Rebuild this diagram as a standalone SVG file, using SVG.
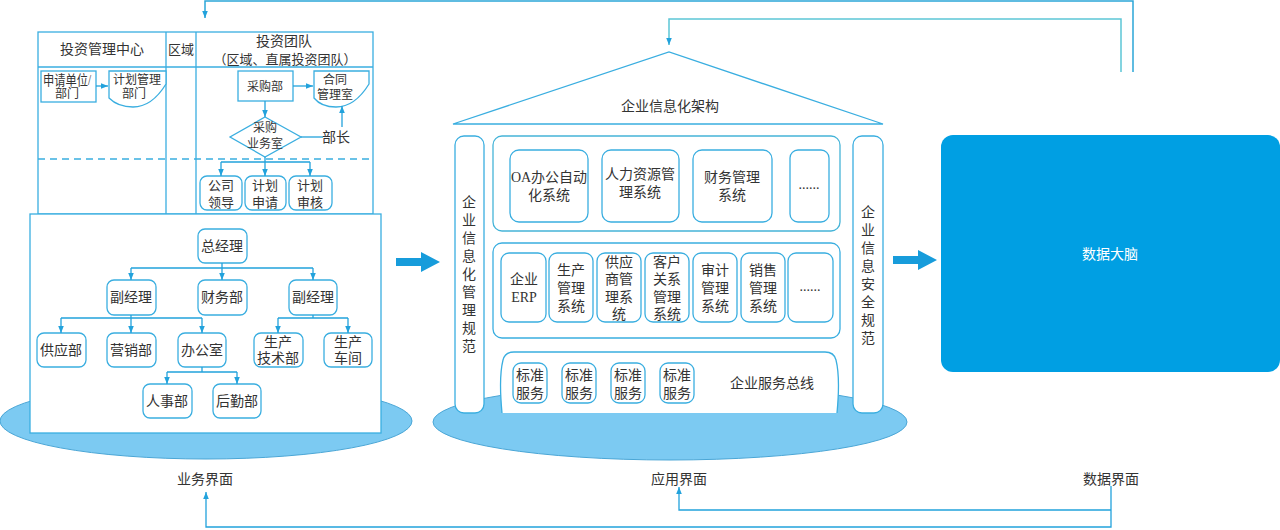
<svg xmlns="http://www.w3.org/2000/svg" width="1280" height="530" viewBox="0 0 1280 530">
<style>
text{font-family:"Liberation Serif","Noto Sans CJK SC",serif;fill:#333;text-anchor:middle;dominant-baseline:central;font-size:14px}
.s{font-size:12px}
.m{font-size:13px}
.box{fill:#fff;stroke:#3AAEE0;stroke-width:1.3}
.ln{fill:none;stroke:#22A2DC;stroke-width:1.3}
.fb{fill:none;stroke:#2BA6D8;stroke-width:1.5}
.fb2{fill:none;stroke:#5CC6D6;stroke-width:1.5}
.gl{fill:none;stroke:#3AAEE0;stroke-width:1.3}
.ell{fill:#7CCAF2;stroke:#4AA6D6;stroke-width:1}
.fat{fill:#179CDB}
</style>
<defs>
<marker id="ah" viewBox="0 0 10 10" refX="10" refY="5" markerWidth="7" markerHeight="9" markerUnits="userSpaceOnUse" orient="auto"><path d="M0,1 L10,5 L0,9 z" fill="#22A2DC"/></marker>
</defs>

<!-- ellipses (bases) -->
<ellipse class="ell" cx="206" cy="421" rx="206" ry="38"/>
<ellipse class="ell" cx="670" cy="422" rx="237" ry="38"/>

<!-- swimlane -->
<g id="swimlane">
<rect x="38" y="32" width="335" height="182" fill="#fff" stroke="#3AAEE0" stroke-width="1.3"/>
<line class="gl" x1="38" y1="67" x2="373" y2="67"/>
<line class="gl" x1="166" y1="32" x2="166" y2="214"/>
<line class="gl" x1="196" y1="32" x2="196" y2="214"/>
<line x1="38" y1="159" x2="373" y2="159" stroke="#3AAEE0" stroke-width="1.3" stroke-dasharray="7,5"/>
<text x="102" y="49">投资管理中心</text>
<text x="181" y="49" class="m">区域</text>
<text x="284" y="41">投资团队</text>
<text x="285" y="59" class="m">（区域、直属投资团队）</text>
</g>

<g id="n-apply"><rect class="box" x="41" y="71" width="55" height="31"/><text x="67" y="80" font-size="11" textLength="48" lengthAdjust="spacingAndGlyphs">申请单位/</text><text x="67" y="94" class="s">部门</text></g>
<g id="n-plan"><path class="box" d="M109,71 H166 V84 C158,97 147,107 133,107 C122,107 114,103 109,98 Z"/><text x="137" y="80" class="s">计划管理</text><text x="134" y="94" class="s">部门</text></g>
<g id="n-purchase"><rect class="box" x="238" y="71" width="55" height="30"/><text x="265" y="87" class="s">采购部</text></g>
<g id="n-contract"><path class="box" d="M314,71 H369 V84 C361,97 350,107 336,107 C325,107 318,103 314,98 Z"/><text x="335" y="80" class="s">合同</text><text x="335" y="95" class="s">管理室</text></g>
<g id="n-diamond"><path class="box" d="M265,117 L301,137 L265,157 L230,137 Z"/><text x="265" y="128" class="s">采购</text><text x="265" y="144" class="s">业务室</text></g>
<g id="n-chief"><text x="336" y="137">部长</text></g>
<g id="n-leader"><rect class="box" x="200" y="176" width="42" height="34" rx="7"/><text x="221" y="185" class="m">公司</text><text x="221" y="202" class="m">领导</text></g>
<g id="n-planapply"><rect class="box" x="245" y="176" width="41" height="34" rx="7"/><text x="265" y="185" class="m">计划</text><text x="265" y="202" class="m">申请</text></g>
<g id="n-planreview"><rect class="box" x="289" y="176" width="43" height="34" rx="7"/><text x="310" y="185" class="m">计划</text><text x="310" y="202" class="m">审核</text></g>

<!-- org chart -->
<g id="orgbox"><rect x="30" y="214" width="351" height="219" fill="#fff" stroke="#3AAEE0" stroke-width="1.3"/></g>
<g id="n-gm"><rect class="box" x="198" y="229" width="49" height="34" rx="7"/><text x="222" y="246">总经理</text></g>
<g id="n-vp1"><rect class="box" x="107" y="280" width="49" height="35" rx="7"/><text x="131" y="297">副经理</text></g>
<g id="n-fin"><rect class="box" x="198" y="280" width="49" height="35" rx="7"/><text x="222" y="297">财务部</text></g>
<g id="n-vp2"><rect class="box" x="289" y="280" width="48" height="35" rx="7"/><text x="313" y="297">副经理</text></g>
<g id="n-supply"><rect class="box" x="37" y="333" width="49" height="34" rx="7"/><text x="61" y="350">供应部</text></g>
<g id="n-sales"><rect class="box" x="107" y="333" width="49" height="34" rx="7"/><text x="131" y="350">营销部</text></g>
<g id="n-office"><rect class="box" x="178" y="333" width="48" height="34" rx="7"/><text x="202" y="350">办公室</text></g>
<g id="n-tech"><rect class="box" x="254" y="333" width="49" height="34" rx="7"/><text x="278" y="342">生产</text><text x="278" y="358">技术部</text></g>
<g id="n-shop"><rect class="box" x="324" y="333" width="48" height="34" rx="7"/><text x="348" y="342">生产</text><text x="348" y="358">车间</text></g>
<g id="n-hr"><rect class="box" x="143" y="384" width="49" height="34" rx="7"/><text x="167" y="401">人事部</text></g>
<g id="n-logi"><rect class="box" x="213" y="384" width="48" height="34" rx="7"/><text x="237" y="401">后勤部</text></g>

<!-- middle architecture -->
<g id="roof"><path d="M453,124 L669,52 L883,124 Z" fill="#fff" stroke="#3AAEE0" stroke-width="1.3"/><text x="670" y="106">企业信息化架构</text></g>
<g id="pillar-left"><rect class="box" x="455" y="136" width="29" height="277" rx="9"/>
<text x="469" y="202">企</text><text x="469" y="220">业</text><text x="469" y="238">信</text><text x="469" y="256">息</text><text x="469" y="274">化</text><text x="469" y="292">管</text><text x="469" y="310">理</text><text x="469" y="328">规</text><text x="469" y="346">范</text></g>
<g id="pillar-right"><rect class="box" x="853" y="136" width="30" height="277" rx="9"/>
<text x="868" y="212">企</text><text x="868" y="230">业</text><text x="868" y="248">信</text><text x="868" y="266">息</text><text x="868" y="284">安</text><text x="868" y="302">全</text><text x="868" y="320">规</text><text x="868" y="338">范</text></g>

<g id="group-top"><rect x="493" y="136" width="347" height="95" rx="9" fill="#fff" stroke="#45B4D8" stroke-width="1.3"/></g>
<g id="n-oa"><rect class="box" x="510" y="150" width="78" height="72" rx="9"/><text x="549" y="177" font-size="13.5">OA办公自动</text><text x="549" y="195" font-size="13.5">化系统</text></g>
<g id="n-hrs"><rect class="box" x="602" y="150" width="77" height="72" rx="9"/><text x="640" y="174">人力资源管</text><text x="640" y="192">理系统</text></g>
<g id="n-fms"><rect class="box" x="693" y="150" width="79" height="72" rx="9"/><text x="732" y="177">财务管理</text><text x="732" y="195">系统</text></g>
<g id="n-more1"><rect class="box" x="790" y="150" width="39" height="72" rx="8"/><text x="809" y="184">......</text></g>

<g id="group-mid"><rect x="493" y="243" width="347" height="95" rx="9" fill="#fff" stroke="#3AAEE0" stroke-width="1.3"/></g>
<g id="n-erp"><rect class="box" x="501" y="253" width="45" height="69" rx="8"/><text x="524" y="279">企业</text><text x="524" y="297">ERP</text></g>
<g id="n-prod"><rect class="box" x="549" y="253" width="44" height="69" rx="8"/><text x="571" y="270">生产</text><text x="571" y="288">管理</text><text x="571" y="306">系统</text></g>
<g id="n-srm"><rect class="box" x="597" y="253" width="44" height="69" rx="8"/><text x="619" y="262">供应</text><text x="619" y="279">商管</text><text x="619" y="297">理系</text><text x="619" y="314">统</text></g>
<g id="n-crm"><rect class="box" x="645" y="253" width="44" height="69" rx="8"/><text x="667" y="262">客户</text><text x="667" y="279">关系</text><text x="667" y="297">管理</text><text x="667" y="314">系统</text></g>
<g id="n-audit"><rect class="box" x="693" y="253" width="44" height="69" rx="8"/><text x="715" y="270">审计</text><text x="715" y="288">管理</text><text x="715" y="306">系统</text></g>
<g id="n-sale"><rect class="box" x="741" y="253" width="44" height="69" rx="8"/><text x="763" y="270">销售</text><text x="763" y="288">管理</text><text x="763" y="306">系统</text></g>
<g id="n-more2"><rect class="box" x="788" y="253" width="45" height="69" rx="8"/><text x="810" y="286">......</text></g>

<g id="bus"><path d="M502,413 C500,392 500,372 503,360 Q505,352 514,352 H825 Q834,352 836,360 C839,372 839,392 837,413" fill="#fff" stroke="#3AAEE0" stroke-width="1.3"/><text x="772" y="383">企业服务总线</text></g>
<g id="n-std1"><rect class="box" x="513" y="363" width="34" height="40" rx="8"/><text x="530" y="375" font-size="13.5">标准</text><text x="530" y="393" font-size="13.5">服务</text></g>
<g id="n-std2"><rect class="box" x="562" y="363" width="34" height="40" rx="8"/><text x="579" y="375" font-size="13.5">标准</text><text x="579" y="393" font-size="13.5">服务</text></g>
<g id="n-std3"><rect class="box" x="611" y="363" width="34" height="40" rx="8"/><text x="628" y="375" font-size="13.5">标准</text><text x="628" y="393" font-size="13.5">服务</text></g>
<g id="n-std4"><rect class="box" x="660" y="363" width="34" height="40" rx="8"/><text x="677" y="375" font-size="13.5">标准</text><text x="677" y="393" font-size="13.5">服务</text></g>

<!-- data brain -->
<g id="n-brain"><rect x="941" y="135" width="339" height="237" rx="12" fill="#009FE3"/><text x="1110" y="254" font-size="15" style="fill:#fff">数据大脑</text></g>

<!-- labels -->
<g id="labels">
<text x="205" y="479">业务界面</text>
<text x="679" y="479">应用界面</text>
<text x="1111" y="479">数据界面</text>
</g>

<!-- connectors -->
<g id="connectors">
<line class="ln" x1="96" y1="86" x2="108" y2="86" marker-end="url(#ah)"/>
<line class="ln" x1="293" y1="86" x2="313" y2="86" marker-end="url(#ah)"/>
<line class="ln" x1="265" y1="101" x2="265" y2="117" marker-end="url(#ah)"/>
<line class="ln" x1="301" y1="137" x2="323" y2="137"/>
<line class="ln" x1="342" y1="127" x2="342" y2="106" marker-end="url(#ah)"/>
<path class="ln" d="M265,157 V162 M221,162 H310"/>
<line class="ln" x1="221" y1="162" x2="221" y2="176" marker-end="url(#ah)"/>
<line class="ln" x1="265" y1="162" x2="265" y2="176" marker-end="url(#ah)"/>
<line class="ln" x1="310" y1="162" x2="310" y2="176" marker-end="url(#ah)"/>

<path class="ln" d="M222,263 V268 M131,268 H313"/>
<line class="ln" x1="131" y1="268" x2="131" y2="280" marker-end="url(#ah)"/>
<line class="ln" x1="222" y1="268" x2="222" y2="280" marker-end="url(#ah)"/>
<line class="ln" x1="313" y1="268" x2="313" y2="280" marker-end="url(#ah)"/>
<path class="ln" d="M131,315 V318 M61,318 H202"/>
<line class="ln" x1="61" y1="318" x2="61" y2="333" marker-end="url(#ah)"/>
<line class="ln" x1="131" y1="318" x2="131" y2="333" marker-end="url(#ah)"/>
<line class="ln" x1="202" y1="318" x2="202" y2="333" marker-end="url(#ah)"/>
<path class="ln" d="M313,315 V318 M278,318 H348"/>
<line class="ln" x1="278" y1="318" x2="278" y2="333" marker-end="url(#ah)"/>
<line class="ln" x1="348" y1="318" x2="348" y2="333" marker-end="url(#ah)"/>
<path class="ln" d="M202,367 V372 M167,372 H237"/>
<line class="ln" x1="167" y1="372" x2="167" y2="384" marker-end="url(#ah)"/>
<line class="ln" x1="237" y1="372" x2="237" y2="384" marker-end="url(#ah)"/>

<path class="fb" d="M1133,72 V1 H205 V18" marker-end="url(#ah)"/>
<path class="fb2" d="M1121,72 V19 H669 V45" marker-end="url(#ah)"/>
<path class="ln" d="M1111,486 V527 H206 V492" marker-end="url(#ah)"/>
<path class="ln" d="M1111,510 H679 V487" marker-end="url(#ah)"/>

<path class="fat" d="M396,258 H421 V252 L440,262 L421,272 V266 H396 Z"/>
<path class="fat" d="M893,256 H918 V250 L937,260 L918,270 V264 H893 Z"/>
</g>
</svg>
